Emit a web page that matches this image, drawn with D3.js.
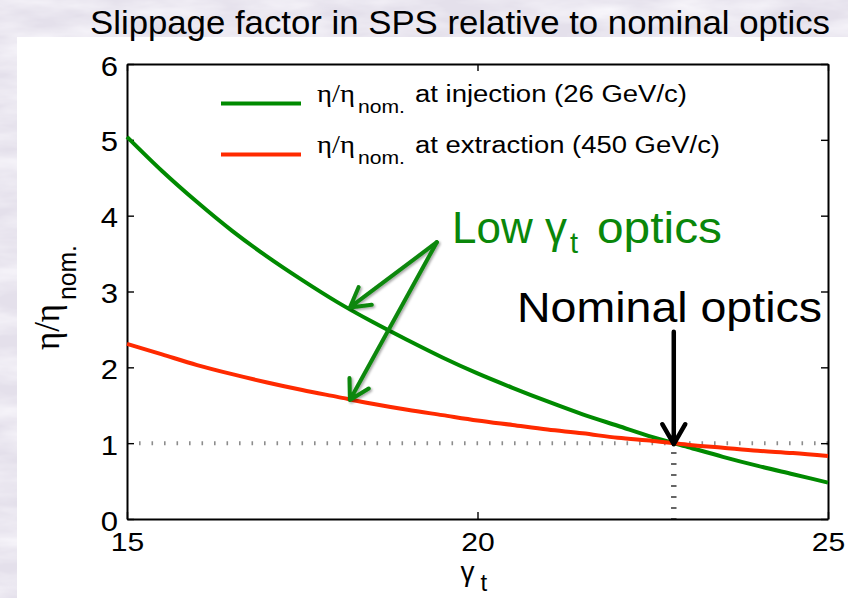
<!DOCTYPE html>
<html>
<head>
<meta charset="utf-8">
<script src="https://cdn.jsdelivr.net/npm/d3@7"></script>
<style>
  html, body { margin: 0; padding: 0; background: #e4e0eb; }
  svg { display: block; }
</style>
</head>
<body>
<svg id="chart" width="848" height="598"></svg>
<script>
// Transition energy gamma_t (x) and slippage factor relative to nominal optics (y)
const gammaT = [15, 15.5, 16, 16.5, 17, 17.5, 18, 18.5, 19, 19.5, 20,
                20.5, 21, 21.5, 22, 22.5, 23, 23.5, 24, 24.5, 25];
const injection = [5.04, 4.59, 4.18, 3.80, 3.46, 3.15, 2.86, 2.60, 2.36, 2.13, 1.92,
                   1.73, 1.55, 1.38, 1.23, 1.08, 0.95, 0.82, 0.70, 0.59, 0.48];
const extraction = [2.31, 2.17, 2.03, 1.91, 1.80, 1.70, 1.61, 1.52, 1.44, 1.37, 1.30,
                    1.24, 1.18, 1.13, 1.07, 1.03, 0.98, 0.94, 0.90, 0.87, 0.83];
const seriesLabels = ["at injection (26 GeV/c)", "at extraction (450 GeV/c)"];
const seriesColors = ["#008a00", "#ff2a00"];
const xTicks = [15, 20, 25];
const yTicks = [0, 1, 2, 3, 4, 5, 6];
const gammaTNominal = 22.8;
const etaNominal = 1;
// Low gamma_t annotation: arrow origin and the two points it marks
const lowOrigin = [19.42, 3.65];
const lowTargets = [[18.18, 2.79], [18.18, 1.57]];
const nominalArrowStart = 2.47;

const SANS = "'Liberation Sans', Arial, Helvetica, sans-serif";
const SERIF = "'Liberation Serif', 'Times New Roman', serif";

const svg = d3.select("#chart");
const defs = svg.append("defs");

// mottled slide background
const marble = defs.append("filter").attr("id", "marble")
  .attr("x", 0).attr("y", 0).attr("width", "100%").attr("height", "100%");
marble.append("feTurbulence").attr("type", "fractalNoise")
  .attr("baseFrequency", "0.012 0.045").attr("numOctaves", 4).attr("seed", 7);
marble.append("feColorMatrix").attr("type", "matrix")
  .attr("values", "0 0 0 0 0.98  0 0 0 0 0.97  0 0 0 0 1  1.5 0 0 0 -0.5");

const shadow = defs.append("filter").attr("id", "shadow")
  .attr("x", "-20%").attr("y", "-20%").attr("width", "140%").attr("height", "140%");
shadow.append("feDropShadow").attr("dx", 1.5).attr("dy", 1.5)
  .attr("stdDeviation", 1.2).attr("flood-color", "#000").attr("flood-opacity", 0.35);

svg.append("rect").attr("width", 848).attr("height", 598).attr("fill", "#e4e0eb");
svg.append("rect").attr("width", 848).attr("height", 598).attr("filter", "url(#marble)");

// white figure panel
svg.append("rect").attr("x", 17).attr("y", 37).attr("width", 831).attr("height", 561)
  .attr("fill", "#ffffff");

// title
svg.append("text")
  .attr("x", 90).attr("y", 34)
  .attr("font-family", SANS).attr("font-size", 33)
  .attr("textLength", 740).attr("lengthAdjust", "spacingAndGlyphs")
  .attr("fill", "#000")
  .text("Slippage factor in SPS relative to nominal optics");

// scales
const x = d3.scaleLinear().domain([15, 25]).range([127, 828]);
const y = d3.scaleLinear().domain([0, 6]).range([519, 64]);

// reference lines at the nominal point
svg.append("line")
  .attr("x1", x(15)).attr("x2", x(25)).attr("y1", y(etaNominal)).attr("y2", y(etaNominal))
  .attr("stroke", "#8c8c8c").attr("stroke-width", 4)
  .attr("stroke-dasharray", "1.6 10.9").attr("stroke-dashoffset", -12);
svg.append("line")
  .attr("x1", x(gammaTNominal)).attr("x2", x(gammaTNominal))
  .attr("y1", y(etaNominal)).attr("y2", y(0))
  .attr("stroke", "#333").attr("stroke-width", 5.5)
  .attr("stroke-dasharray", "1.5 9.5").attr("stroke-dashoffset", -9);

// axes: ticks point inward on all four sides
function styleAxis(g) {
  g.select(".domain").attr("stroke", "#000").attr("stroke-width", 2);
  g.selectAll(".tick line").attr("stroke", "#000").attr("stroke-width", 1.4);
}
const yAxisL = svg.append("g").attr("transform", `translate(${x(15)},0)`)
  .call(d3.axisLeft(y).tickValues(yTicks).tickSizeInner(-7).tickSizeOuter(0).tickFormat(d3.format("d")))
  .call(styleAxis);
yAxisL.selectAll(".tick text")
  .attr("x", null).attr("dy", null)
  .attr("transform", "translate(-9,11) scale(1.15,1)")
  .attr("font-family", SANS).attr("font-size", 27).attr("fill", "#000");

svg.append("g").attr("transform", `translate(${x(25)},0)`)
  .call(d3.axisRight(y).tickValues(yTicks).tickSizeInner(-7).tickSizeOuter(0).tickFormat(""))
  .call(styleAxis);

const xAxisB = svg.append("g").attr("transform", `translate(0,${y(0)})`)
  .call(d3.axisBottom(x).tickValues(xTicks).tickSizeInner(-7).tickSizeOuter(0).tickFormat(d3.format("d")))
  .call(styleAxis);
xAxisB.selectAll(".tick text")
  .attr("y", null).attr("dy", null)
  .attr("transform", "translate(0,32) scale(1.18,1)")
  .attr("font-family", SANS).attr("font-size", 25.5).attr("fill", "#000");

svg.append("g").attr("transform", `translate(0,${y(6)})`)
  .call(d3.axisTop(x).tickValues(xTicks).tickSizeInner(-7).tickSizeOuter(0).tickFormat(""))
  .call(styleAxis);

// axis titles
const xt = svg.append("g").attr("transform", `translate(${x(20)},0)`);
xt.append("text").attr("x", -17).attr("y", 581)
  .attr("font-family", SANS).attr("font-size", 28).attr("fill", "#000").text("γ");
xt.append("text").attr("x", 3).attr("y", 591)
  .attr("font-family", SANS).attr("font-size", 24).attr("fill", "#000").text("t");

const yt = svg.append("g").attr("transform", "translate(59,350) rotate(-90)");
yt.append("text").attr("x", 0).attr("y", 0)
  .attr("font-family", SERIF).attr("font-size", 36)
  .attr("textLength", 46).attr("lengthAdjust", "spacingAndGlyphs")
  .attr("fill", "#000").text("η/η");
yt.append("text").attr("x", 50).attr("y", 17)
  .attr("font-family", SANS).attr("font-size", 25)
  .attr("textLength", 55).attr("lengthAdjust", "spacingAndGlyphs")
  .attr("fill", "#000").text("nom.");

// curves
const series = [injection, extraction];
const line = d3.line()
  .x((d, i) => x(gammaT[i]))
  .y(d => y(d))
  .curve(d3.curveMonotoneX);
svg.append("g").selectAll("path").data(series).join("path")
  .attr("d", d => line(d))
  .attr("fill", "none")
  .attr("stroke", (d, i) => seriesColors[i])
  .attr("stroke-width", 4)
  .attr("stroke-linejoin", "round");

// legend
const legendRows = [{y: 103.5, width: 272}, {y: 154.5, width: 305}];
const legend = svg.append("g");
legendRows.forEach((r, i) => {
  legend.append("line")
    .attr("x1", 221).attr("x2", 301).attr("y1", r.y).attr("y2", r.y)
    .attr("stroke", seriesColors[i]).attr("stroke-width", 4);
  legend.append("text").attr("x", 317).attr("y", r.y - 1.5)
    .attr("font-family", SERIF).attr("font-size", 26)
    .attr("textLength", 38).attr("lengthAdjust", "spacingAndGlyphs")
    .attr("fill", "#000").text("η/η");
  legend.append("text").attr("x", 358).attr("y", r.y + 9.5)
    .attr("font-family", SANS).attr("font-size", 18)
    .attr("textLength", 47).attr("lengthAdjust", "spacingAndGlyphs")
    .attr("fill", "#000").text("nom.");
  legend.append("text").attr("x", 415).attr("y", r.y - 1.5)
    .attr("font-family", SANS).attr("font-size", 23)
    .attr("textLength", r.width).attr("lengthAdjust", "spacingAndGlyphs")
    .attr("fill", "#000").text(seriesLabels[i]);
});

// arrows with open chevron heads
function arrow(g, p0, p1, color, width, barb) {
  const dx = p1[0] - p0[0], dy = p1[1] - p0[1];
  const len = Math.hypot(dx, dy);
  const bx = -dx / len, by = -dy / len;
  const a = Math.PI / 6;
  const h1 = [p1[0] + barb * (bx * Math.cos(a) - by * Math.sin(a)),
              p1[1] + barb * (bx * Math.sin(a) + by * Math.cos(a))];
  const h2 = [p1[0] + barb * (bx * Math.cos(-a) - by * Math.sin(-a)),
              p1[1] + barb * (bx * Math.sin(-a) + by * Math.cos(-a))];
  const p = d3.path();
  p.moveTo(p0[0], p0[1]); p.lineTo(p1[0], p1[1]);
  p.moveTo(h1[0], h1[1]); p.lineTo(p1[0], p1[1]); p.lineTo(h2[0], h2[1]);
  g.append("path").attr("d", p.toString())
    .attr("fill", "none").attr("stroke", color).attr("stroke-width", width)
    .attr("stroke-linecap", "round").attr("stroke-linejoin", "round");
}

// low gamma_t annotation
const green = "#0a870a";
const lowG = svg.append("g").attr("filter", "url(#shadow)");
lowTargets.forEach(t => {
  arrow(lowG, [x(lowOrigin[0]), y(lowOrigin[1])], [x(t[0]), y(t[1])], green, 4, 22);
});
svg.append("text").attr("x", 452).attr("y", 243)
  .attr("font-family", SANS).attr("font-size", 44)
  .attr("textLength", 115).attr("lengthAdjust", "spacingAndGlyphs")
  .attr("fill", green).text("Low γ");
svg.append("text").attr("x", 570).attr("y", 253)
  .attr("font-family", SANS).attr("font-size", 29)
  .attr("fill", green).text("t");
svg.append("text").attr("x", 597).attr("y", 243)
  .attr("font-family", SANS).attr("font-size", 44)
  .attr("textLength", 125).attr("lengthAdjust", "spacingAndGlyphs")
  .attr("fill", green).text("optics");

// nominal optics annotation
svg.append("text").attr("x", 517).attr("y", 322)
  .attr("font-family", SANS).attr("font-size", 42)
  .attr("textLength", 305).attr("lengthAdjust", "spacingAndGlyphs")
  .attr("fill", "#000").text("Nominal optics");
arrow(svg.append("g"), [x(gammaTNominal), y(nominalArrowStart)],
      [x(gammaTNominal), y(etaNominal) + 1], "#000", 4.5, 23);
</script>
</body>
</html>
